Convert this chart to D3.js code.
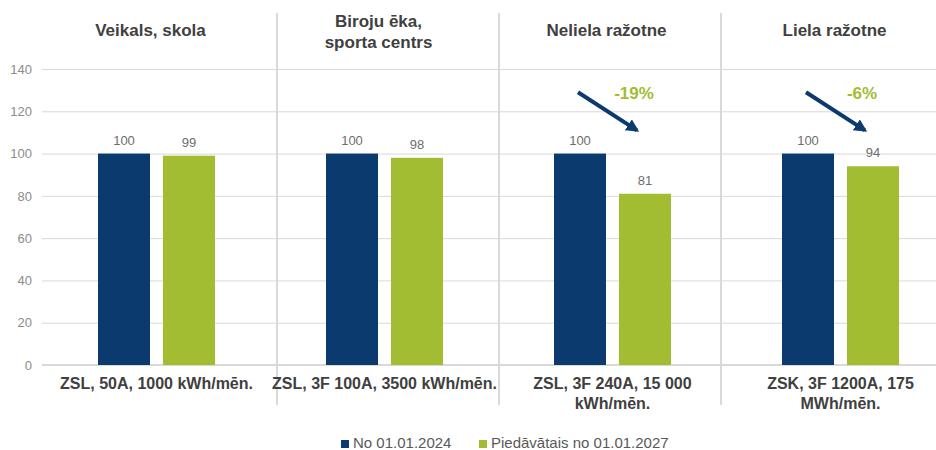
<!DOCTYPE html>
<html>
<head>
<meta charset="utf-8">
<script src="https://cdn.jsdelivr.net/npm/d3@7"></script>
<style>
  body { margin: 0; background: #fff; }
  svg { font-family: "Liberation Sans", Arial, sans-serif; }
</style>
</head>
<body>
<div id="chart"></div>
<script>
// data
const sections = ["Veikals, skola", "Biroju ēka,\nsporta centrs", "Neliela ražotne", "Liela ražotne"];
const categories = ["ZSL, 50A, 1000 kWh/mēn.", "ZSL, 3F 100A, 3500 kWh/mēn.", "ZSL, 3F 240A, 15 000\nkWh/mēn.", "ZSK, 3F 1200A, 175\nMWh/mēn."];
const seriesNames = ["No 01.01.2024", "Piedāvātais no 01.01.2027"];
const valuesOld = [100, 100, 100, 100];
const valuesNew = [99, 98, 81, 94];
const changeLabels = [null, null, "-19%", "-6%"];
const yTicks = [0, 20, 40, 60, 80, 100, 120, 140];

const width = 936, height = 450;
const colors = ["#0b3a6f", "#a2bd31"];
const gridColor = "#d9d9d9";

const svg = d3.select("#chart").append("svg")
  .attr("width", width)
  .attr("height", height);

// scales
const x = d3.scaleBand()
  .domain(categories)
  .range([42.5, 954.5]);
const xSeries = d3.scaleBand()
  .domain(seriesNames)
  .range([-58.5, 58.5])
  .paddingInner(0.2);
const y = d3.scaleLinear()
  .domain([0, 140])
  .range([365, 69]);
// the section dividers sit on their own, evenly spaced
const xSection = d3.scaleLinear().domain([0, 4]).range([55, 943]);

const cx = d => x(d) + x.bandwidth() / 2;

// gridlines + y labels
const yAxis = svg.append("g")
  .attr("transform", "translate(42,0)")
  .call(d3.axisLeft(y).tickValues(yTicks).tickSize(-894).tickPadding(10));
yAxis.select(".domain").remove();
yAxis.selectAll(".tick line").attr("stroke", gridColor).attr("stroke-width", 1);
yAxis.selectAll(".tick text")
  .attr("fill", "#8c8c8c")
  .style("font-size", "13px");

// zero line slightly stronger
svg.append("line")
  .attr("x1", 42).attr("x2", 936)
  .attr("y1", y(0)).attr("y2", y(0))
  .attr("stroke", gridColor).attr("stroke-width", 2);

// section dividers
svg.selectAll(".divider")
  .data([1, 2, 3])
  .join("line")
  .attr("class", "divider")
  .attr("x1", d => xSection(d)).attr("x2", d => xSection(d))
  .attr("y1", 13).attr("y2", 405)
  .attr("stroke", gridColor).attr("stroke-width", 2);

// bars
const rows = categories.map((c, i) => ({ cat: c, vals: [valuesOld[i], valuesNew[i]], change: changeLabels[i], section: sections[i] }));

const groups = svg.selectAll(".grp")
  .data(rows)
  .join("g")
  .attr("class", "grp")
  .attr("transform", d => "translate(" + cx(d.cat) + ",0)");

groups.selectAll("rect")
  .data(d => d.vals.map((v, j) => ({ s: seriesNames[j], v: v, j: j })))
  .join("rect")
  .attr("x", d => xSeries(d.s))
  .attr("width", xSeries.bandwidth())
  .attr("y", d => y(d.v))
  .attr("height", d => y(0) - y(d.v))
  .attr("fill", d => colors[d.j]);

groups.selectAll(".val")
  .data(d => d.vals.map((v, j) => ({ s: seriesNames[j], v: v })))
  .join("text")
  .attr("class", "val")
  .attr("x", d => xSeries(d.s) + xSeries.bandwidth() / 2)
  .attr("y", d => y(d.v) - 9)
  .attr("text-anchor", "middle")
  .attr("fill", "#6e6e6e")
  .style("font-size", "13px")
  .text(d => d.v);

// category labels (bottom)
groups.append("text")
  .attr("text-anchor", "middle")
  .attr("fill", "#404040")
  .style("font-size", "16px")
  .style("font-weight", "bold")
  .selectAll("tspan")
  .data(d => d.cat.split("\n"))
  .join("tspan")
  .attr("x", 0)
  .attr("y", (d, i) => 389 + i * 20)
  .text(d => d);

// section titles (top)
groups.append("text")
  .attr("text-anchor", "middle")
  .attr("fill", "#404040")
  .style("font-size", "17px")
  .style("font-weight", "bold")
  .selectAll("tspan")
  .data(d => d.section.split("\n"))
  .join("tspan")
  .attr("x", -6)
  .attr("y", (d, i, n) => (n.length > 1 ? 27 : 36) + i * 21)
  .text(d => d);

// arrows with change labels
svg.append("defs").append("marker")
  .attr("id", "head")
  .attr("viewBox", "0 0 10 10")
  .attr("refX", 8).attr("refY", 5)
  .attr("markerWidth", 3.2).attr("markerHeight", 3.2)
  .attr("orient", "auto")
  .append("path")
  .attr("d", "M0,0 L10,5 L0,10 z")
  .attr("fill", colors[0]);

const withChange = groups.filter(d => d.change);
withChange.append("line")
  .attr("x1", xSeries(seriesNames[0]) + xSeries.bandwidth() / 2 - 2)
  .attr("y1", y(129))
  .attr("x2", xSeries(seriesNames[1]) + xSeries.bandwidth() / 2 - 8)
  .attr("y2", y(111))
  .attr("stroke", colors[0])
  .attr("stroke-width", 4)
  .attr("marker-end", "url(#head)");
withChange.append("text")
  .attr("x", xSeries(seriesNames[1]) + xSeries.bandwidth() / 2 - 11)
  .attr("y", y(126))
  .attr("text-anchor", "middle")
  .attr("fill", colors[1])
  .style("font-size", "17px")
  .style("font-weight", "bold")
  .text(d => d.change);

// legend
const legend = svg.append("g").attr("transform", "translate(341,448)");
const legendX = [0, 138];
seriesNames.forEach(function(name, i) {
  const item = legend.append("g").attr("transform", "translate(" + legendX[i] + ",0)");
  item.append("rect")
    .attr("x", 0).attr("y", -8)
    .attr("width", 8).attr("height", 8)
    .attr("fill", colors[i]);
  item.append("text")
    .attr("x", 12).attr("y", 0)
    .attr("fill", "#595959")
    .style("font-size", "15px")
    .text(name);
});
</script>
</body>
</html>
